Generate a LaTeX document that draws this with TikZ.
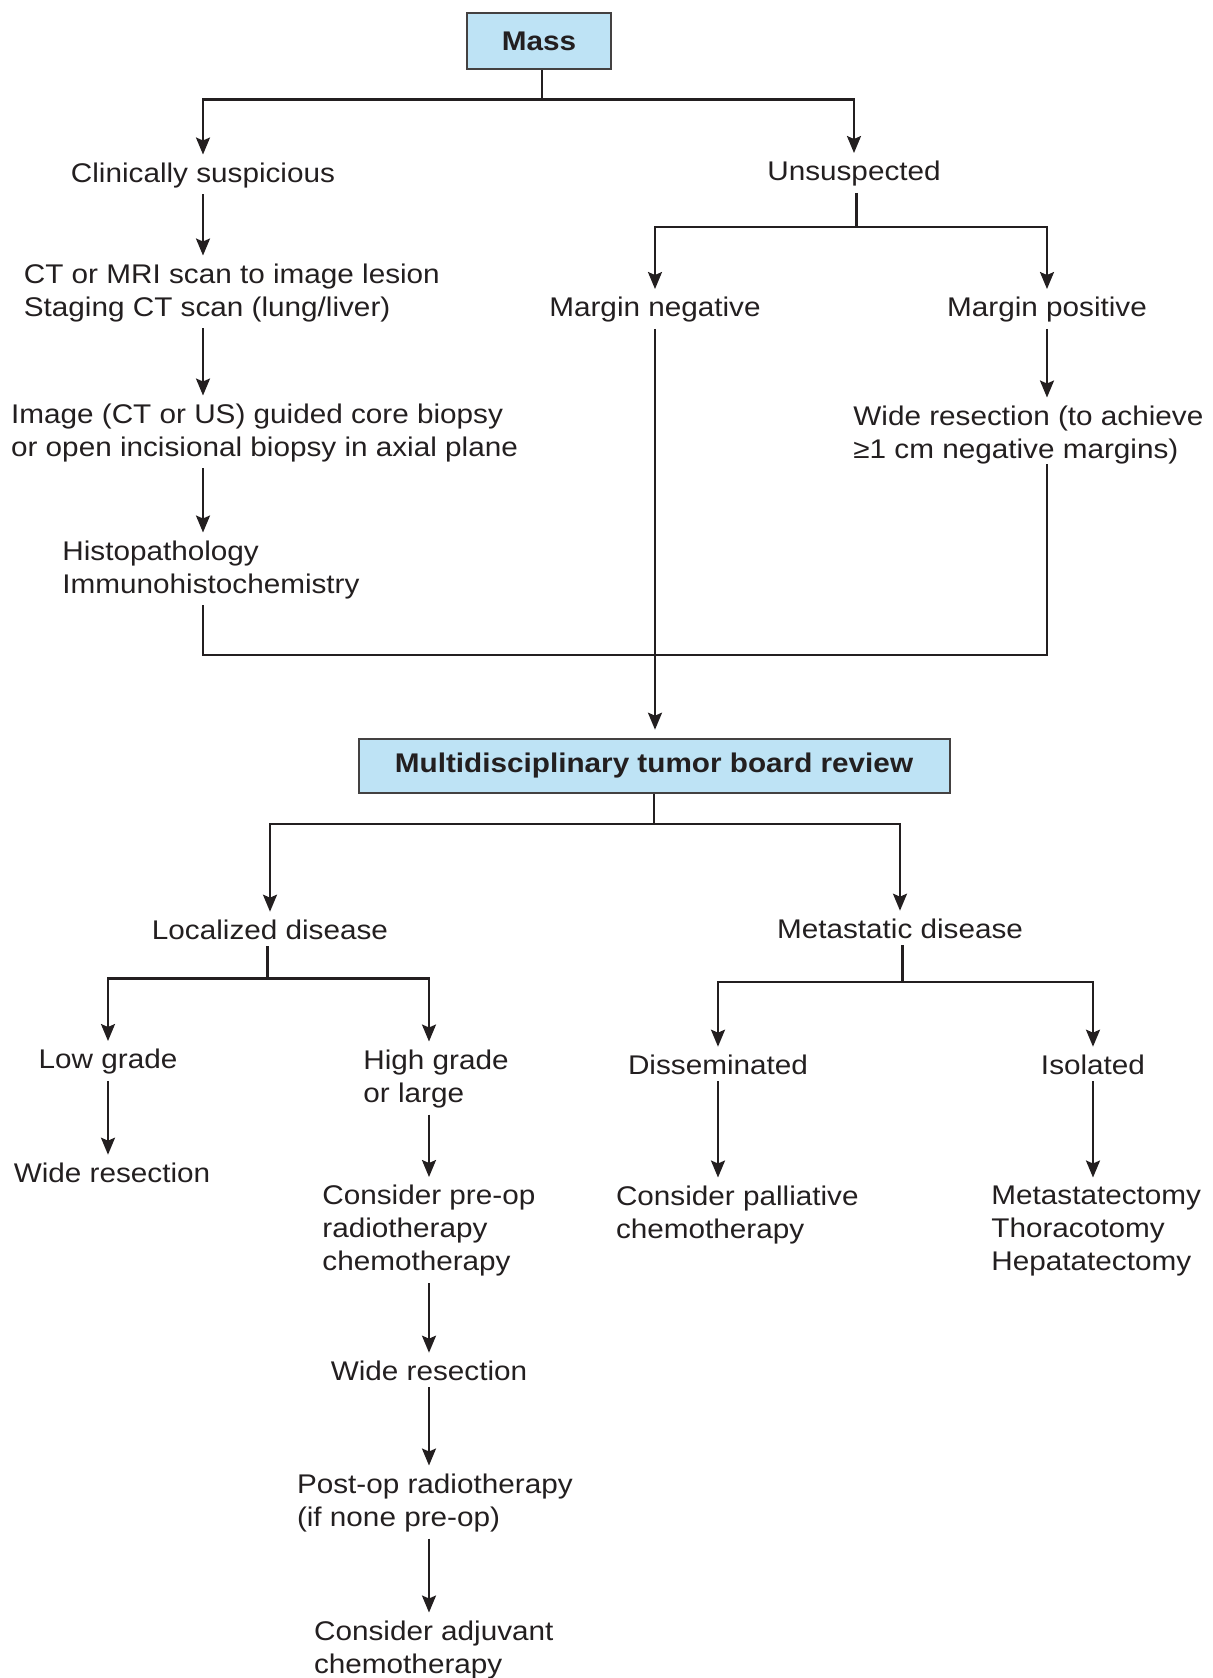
\documentclass[tikz,border=0pt]{standalone}
\usepackage{fontspec}
\setmainfont[FakeStretch=1.1]{Liberation Sans}
\usetikzlibrary{arrows.meta}
\definecolor{boxblue}{RGB}{190,227,245}
\definecolor{ink}{RGB}{35,31,32}
\begin{document}
\begin{tikzpicture}[x=0.5pt,y=-0.5pt,
  every node/.style={font=\fontsize{13.5}{16.5}\selectfont, text=ink, inner sep=0pt},
  lbl/.style={yshift=-1.5pt},
  ml/.style={anchor=west, align=left, yshift=-1.5pt},
  bluebox/.style={draw=ink!85, line width=1pt, fill=boxblue, font=\fontsize{13.5}{16.5}\selectfont\bfseries},
  conn/.style={draw=ink, line width=1.15pt},
  arr/.style={conn, -{Stealth[length=8.5pt,width=7pt,inset=1.5pt]}, shorten >=4pt},
  arrs/.style={arr, shorten <=3pt},
  lines/.style={conn, shorten <=3pt}]
\useasboundingbox (0,0) rectangle (1213,1678);
% nodes
\node[bluebox, minimum width=72pt, minimum height=28pt] (mass) at (539,41) {Mass};
\node[lbl] (cs) at (203,172.5) {Clinically suspicious};
\node[lbl] (un) at (854,171) {Unsuspected};
\node[ml] (ct) at (23.5,290) {CT or MRI scan to image lesion\\Staging CT scan (lung/liver)};
\node[ml] (img) at (10.7,430) {Image (CT or US) guided core biopsy\\or open incisional biopsy in axial plane};
\node[ml] (histo) at (62,567) {Histopathology\\Immunohistochemistry};
\node[lbl] (mn) at (655,307) {Margin negative};
\node[lbl] (mp) at (1047,307) {Margin positive};
\node[ml] (wr1) at (853,432) {Wide resection (to achieve\\≥1 cm negative margins)};
\node[bluebox, minimum width=295.5pt, minimum height=27.3pt] (mtb) at (654,766) {Multidisciplinary tumor board review};
\node[lbl] (loc) at (270,927) {Localized disease};
\node[lbl] (met) at (900,926) {Metastatic disease};
\node[lbl] (low) at (108,1059) {Low grade};
\node[ml] (high) at (363,1076) {High grade\\or large};
\node[lbl] (dis) at (718,1062) {Disseminated};
\node[lbl] (iso) at (1093,1062) {Isolated};
\node[lbl] (wr2) at (112,1170) {Wide resection};
\node[ml] (pre) at (322,1228) {Consider pre-op\\radiotherapy\\chemotherapy};
\node[ml] (pal) at (615.6,1212) {Consider palliative\\chemotherapy};
\node[ml] (mst) at (991,1228) {Metastatectomy\\Thoracotomy\\Hepatatectomy};
\node[lbl] (wr3) at (429,1368) {Wide resection};
\node[ml] (post) at (296.6,1500) {Post-op radiotherapy\\(if none pre-op)};
\node[ml] (adj) at (313.7,1647) {Consider adjuvant\\chemotherapy};
% junctions
\coordinate (j1) at (541.7,99.6);
\coordinate (j2) at (856.5,227);
\coordinate (jb) at (655,655);
\coordinate (j4) at (654,824);
\coordinate (j5) at (267.6,978.5);
\coordinate (j6) at (902.5,981.7);
% connectors
\draw[conn] (mass.south -| j1) -- (j1);
\draw[arr] (j1) -| (cs.north);
\draw[arr] (j1) -| (un.north);
\draw[arrs] (cs.south) -- (cs.south |- ct.north);
\draw[arrs] (cs.south |- ct.south) -- (cs.south |- img.north);
\draw[arrs] (cs.south |- img.south) -- (cs.south |- histo.north);
\draw[lines] (cs.south |- histo.south) |- (jb) -| (mp.south |- wr1.south);
\draw[lines] (un.south -| j2) -- (j2);
\draw[arr] (j2) -| (mn.north);
\draw[arr] (j2) -| (mp.north);
\draw[arrs] (mn.south) -- (mn.south |- mtb.north);
\draw[arrs] (mp.south) -- (mp.south |- wr1.north);
\draw[conn] (mtb.south -| j4) -- (j4);
\draw[arr] (j4) -| (loc.north);
\draw[arr] (j4) -| (met.north);
\draw[lines] (loc.south -| j5) -- (j5);
\draw[arr] (j5) -| (low.north);
\draw[arr] (j5) -| (wr3.north |- high.north);
\draw[arrs] (low.south) -- (low.south |- wr2.north);
\draw[arrs] (wr3.north |- high.south) -- (wr3.north |- pre.north);
\draw[arrs] (wr3.north |- pre.south) -- (wr3.north);
\draw[arrs] (wr3.south) -- (wr3.south |- post.north);
\draw[arrs] (wr3.south |- post.south) -- (wr3.south |- adj.north);
\draw[lines] (met.south -| j6) -- (j6);
\draw[arr] (j6) -| (dis.north);
\draw[arr] (j6) -| (iso.north);
\draw[arrs] (dis.south) -- (dis.south |- pal.north);
\draw[arrs] (iso.south) -- (iso.south |- mst.north);
\end{tikzpicture}
\end{document}
